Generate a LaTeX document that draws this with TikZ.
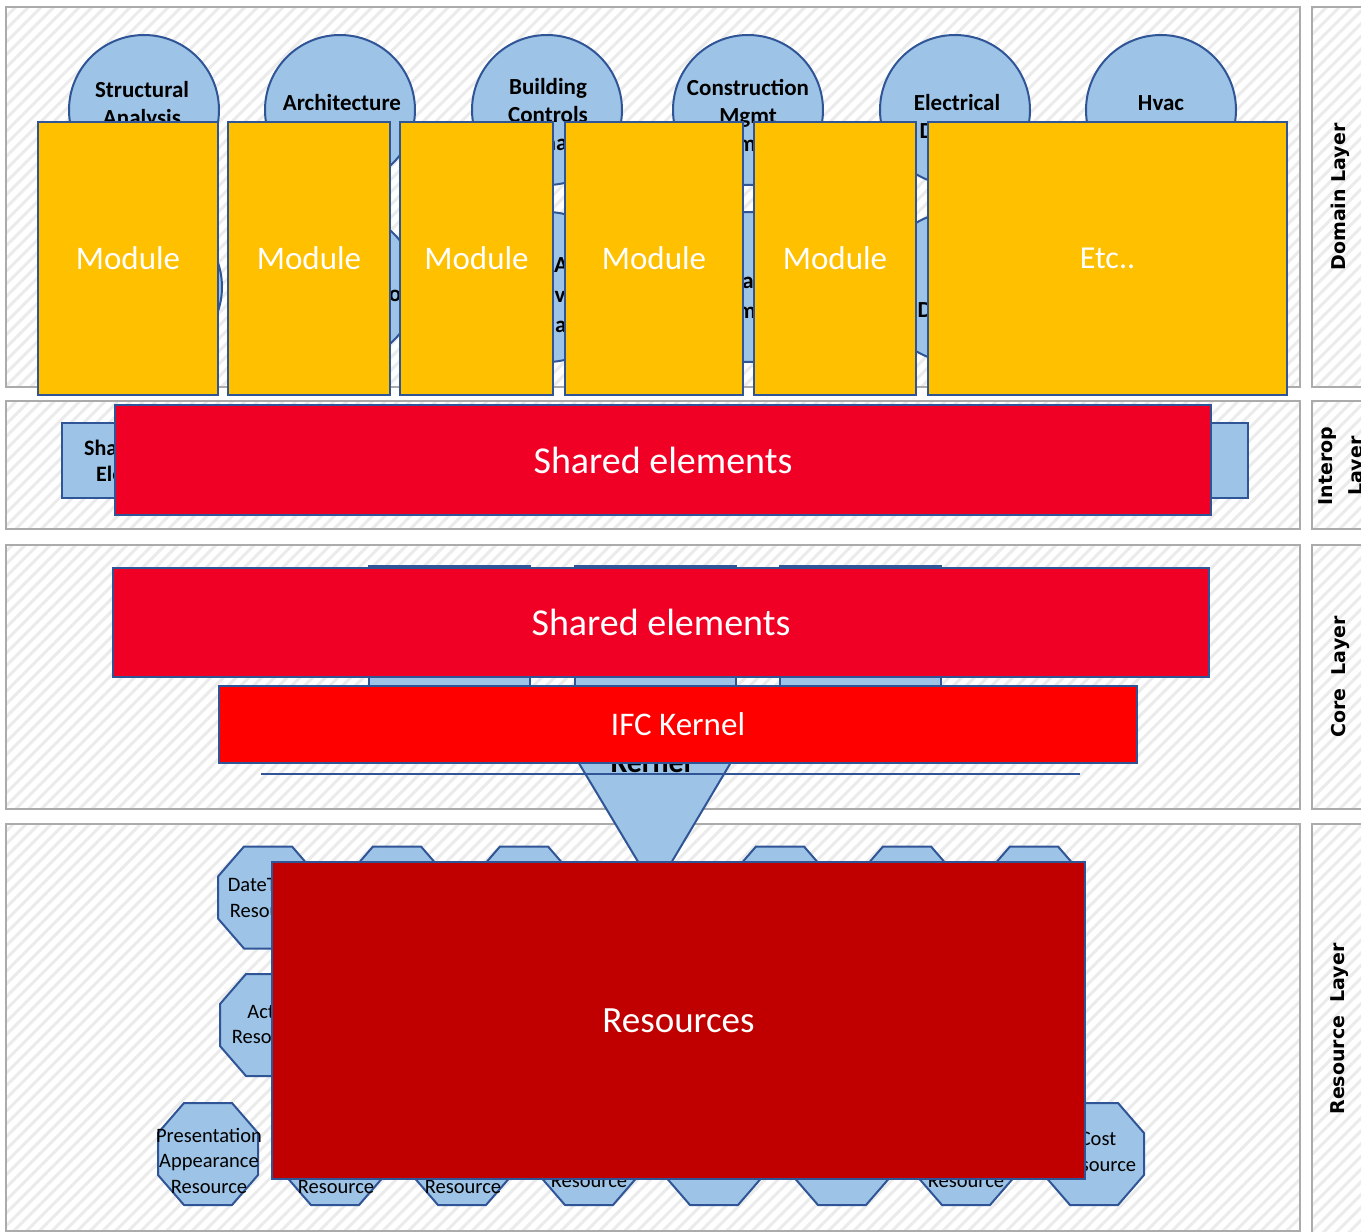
\documentclass[tikz,border=0pt]{standalone}
\usepackage{fontspec}
\setmainfont{Carlito}
\newfontfamily\lblfont{DejaVu Sans}
\usetikzlibrary{patterns.meta}
\definecolor{panelgray}{HTML}{ABABAB}
\definecolor{hatch}{HTML}{EBEBEB}
\definecolor{lblue}{HTML}{9DC3E6}
\definecolor{dblue}{HTML}{2F5597}
\definecolor{modyellow}{HTML}{FFC000}
\definecolor{shred}{HTML}{F00024}
\definecolor{kred}{HTML}{FF0000}
\definecolor{resred}{HTML}{C00000}
\newcommand{\myocta}[2]{\filldraw[octa] (#1-24,#2-51) -- (#1+24,#2-51) -- (#1+50,#2-21) -- (#1+50,#2+21) -- (#1+24,#2+51) -- (#1-24,#2+51) -- (#1-50,#2+21) -- (#1-50,#2-21) -- cycle;}
\begin{document}
\begin{tikzpicture}[x=1pt,y=-1pt,
  panel/.style={draw=panelgray, line width=2pt, preaction={fill=white},
    pattern={Lines[angle=45,distance=9pt,line width=3pt]}, pattern color=hatch},
  layerlbl/.style={rotate=90, font=\lblfont\bfseries\fontsize{19}{30}\selectfont, align=center, inner sep=0},
  domcirc/.style={circle, draw=dblue, fill=lblue, line width=2pt, minimum size=150pt, inner sep=0},
  domtxt/.style={font=\bfseries\fontsize{23}{28}\selectfont, align=center, inner sep=0, text=black},
  module/.style={draw=dblue, fill=modyellow, line width=2pt, inner sep=0, text=white,
    font=\fontsize{33}{40}\selectfont},
  bluebox/.style={draw=dblue, fill=lblue, line width=2pt, inner sep=0},
  redbox/.style={draw=dblue, line width=2pt, inner sep=0, text=white},
  octa/.style={draw=dblue, fill=lblue, line width=2pt, line join=round},
  octtxt/.style={font=\fontsize{20.5}{25.5}\selectfont, align=center, inner sep=0, text=black}
]
\useasboundingbox (0,0) rectangle (1361,1232);
\clip (0,0) rectangle (1361,1232);

% ---------- layer panels ----------
\path[panel] (6,7) rectangle (1300,387);
\path[panel] (6,401) rectangle (1300,529);
\path[panel] (6,545) rectangle (1300,809);
\path[panel] (6,824) rectangle (1300,1231);
\path[panel] (1312,7) rectangle (1385,387);
\path[panel] (1312,401) rectangle (1385,529);
\path[panel] (1312,545) rectangle (1385,809);
\path[panel] (1312,824) rectangle (1385,1240);

\node[layerlbl] (lDom) at (1340,197) {Domain Layer};
\node[layerlbl] (lInt) at (1343,466) {Interop\\Layer};
\node[layerlbl] (lCore) at (1340,677) {Core\ \ Layer};
\node[layerlbl] (lRes) at (1340,1029) {Resource\ \ Layer};

% ---------- domain layer ----------
\node[domcirc] (e1) at (144,110) {};
\node[domcirc] (e2) at (340,110) {};
\node[domcirc] (e3) at (547,110) {};
\node[domcirc] (e4) at (748,110) {};
\node[domcirc] (e5) at (955,110) {};
\node[domcirc] (e6) at (1161,110) {};
\node[domcirc] (f1) at (147,287) {};
\node[domcirc] (f2) at (341,287) {};
\node[domcirc] (f3) at (547,287) {};
\node[domcirc] (f4) at (748,287) {};
\node[domcirc] (f5) at (955,287) {};
\node[domcirc] (f6) at (1161,287) {};

\node[domtxt] (t1) at (142,118) {Structural\\Analysis\\Domain};
\node[domtxt] (t2) at (342,117) {Architecture\\Domain};
\node[domtxt] (t3) at (548,115) {Building\\Controls\\Domain};
\node[domtxt] (t4) at (748,115) {Construction\\Mgmt\\Domain};
\node[domtxt] (t5) at (957,117) {Electrical\\Domain};
\node[domtxt] (t6) at (1161,117) {Hvac\\Domain};
\node[domtxt] (u2) at (395,296) {o};
\node[domtxt] (u3a) at (561,265) {A};
\node[domtxt] (u3b) at (560,297) {v};
\node[domtxt] (u3c) at (547,325) {Domain};
\node[domtxt] (u4a) at (748,283) {a};
\node[domtxt] (u4b) at (748,311) {Domain};
\node[domtxt] (u5) at (955,310) {Domain};

\node[module, minimum width=180pt, minimum height=273pt] (m1) at (128,258.5) {Module};
\node[module, minimum width=162pt, minimum height=273pt] (m2) at (309,258.5) {Module};
\node[module, minimum width=153pt, minimum height=273pt] (m3) at (476.5,258.5) {Module};
\node[module, minimum width=178pt, minimum height=273pt] (m4) at (654,258.5) {Module};
\node[module, minimum width=162pt, minimum height=273pt] (m5) at (835,258.5) {Module};
\node[module, minimum width=359pt, minimum height=273pt, font=\fontsize{32}{40}\selectfont] (m6) at (1107.5,258.5) {Etc..};

% ---------- interop layer ----------
\node[bluebox, minimum width=1186pt, minimum height=75pt] (ib) at (655,460.5) {};
\node[domtxt, font=\bfseries\fontsize{22}{26}\selectfont, anchor=west] (ibt1) at (84,448) {Shared};
\node[domtxt, font=\bfseries\fontsize{22}{26}\selectfont, anchor=west] (ibt2) at (96,474) {Elements};
\node[redbox, fill=shred, minimum width=1096pt, minimum height=110pt, font=\fontsize{38}{44}\selectfont] (ir) at (663,460) {Shared elements};

% ---------- core layer ----------
\node[bluebox, minimum width=161pt, minimum height=121pt] (cb1) at (449.5,626.5) {};
\node[bluebox, minimum width=161pt, minimum height=121pt] (cb2) at (655.5,626.5) {};
\node[bluebox, minimum width=161pt, minimum height=121pt] (cb3) at (860.5,626.5) {};
\node[redbox, fill=shred, minimum width=1096pt, minimum height=109pt, font=\fontsize{38}{44}\selectfont] (cr) at (661,622.5) {Shared elements};

% ---------- resource layer (hidden octagons) ----------
\myocta{268}{897.5}
\myocta{397}{897.5}
\myocta{524}{897.5}
\myocta{780}{897.5}
\myocta{907}{897.5}
\myocta{1034}{897.5}
\myocta{270}{1025}
\myocta{208}{1154}
\myocta{335}{1154}
\myocta{462}{1154}
\myocta{589}{1154}
\myocta{714}{1154}
\myocta{842}{1154}
\myocta{966}{1154}
\myocta{1094}{1154}
\node[octtxt] (o1) at (268,897.5) {DateTime\\Resource};
\node[octtxt] (o2) at (270,1024.5) {Actor\\Resource};
\node[octtxt] (o3) at (209,1160.5) {Presentation\\Appearance\\Resource};
\node[octtxt] (o4) at (336,1187) {Resource};
\node[octtxt] (o5) at (463,1187) {Resource};
\node[octtxt] (o6) at (589,1181) {Resource};
\node[octtxt] (o7) at (966,1181) {Resource};
\node[octtxt] (o8) at (1098,1152) {Cost\\Resource};

% ---------- kernel ----------
\filldraw[octa, line join=miter] (535,690) -- (774,690) -- (655,890) -- cycle;
\node[domtxt, font=\bfseries\fontsize{30}{36}\selectfont, anchor=base] (kt) at (651,772) {Kernel};
\node[redbox, fill=kred, minimum width=918pt, minimum height=77pt, font=\fontsize{33}{40}\selectfont] (ifc) at (678,724.5) {IFC Kernel};
\coordinate (la) at (261,774);
\coordinate (lb) at (1080,774);
\draw[dblue, line width=1.2pt] (la) -- (lb);

\node[redbox, fill=resred, minimum width=813pt, minimum height=317pt, font=\fontsize{37}{44}\selectfont] (res) at (678.5,1020.5) {Resources};
\end{tikzpicture}
\end{document}
